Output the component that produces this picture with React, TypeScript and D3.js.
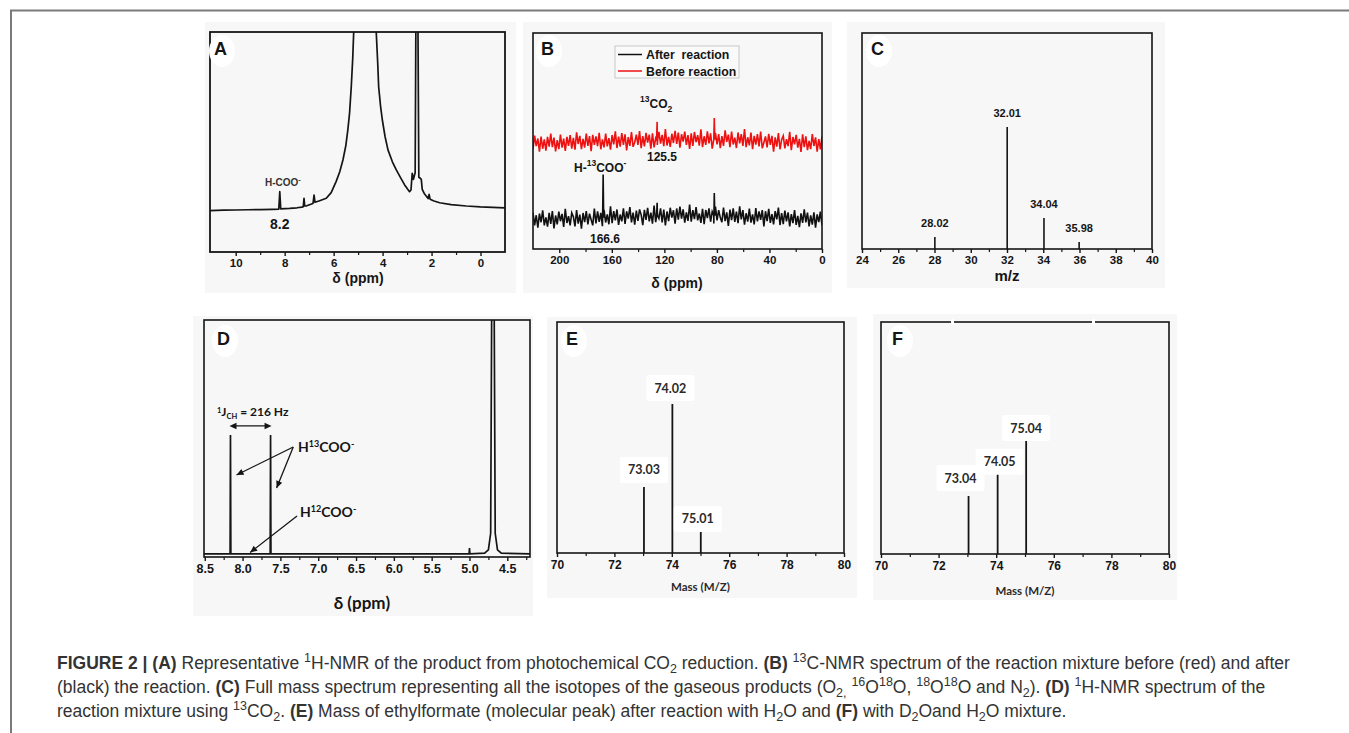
import { useEffect, useRef } from 'react'
import * as d3 from 'd3'

// ---- panel A: 1H-NMR trace, [ppm, intensity]
const A_TRACE: [number, number][] = [
  [11.1, 18.8], [10.5, 19.0], [10, 19.1], [9.5, 19.2], [9, 19.3], [8.5, 19.4], [8.24, 19.5],
  [8.2, 27.4], [8.16, 19.6], [7.8, 19.8], [7.5, 20.1], [7.3, 20.4], [7.24, 20.6], [7.21, 24.4],
  [7.18, 20.9], [7.1, 21.0], [6.9, 21.8], [6.84, 22.2], [6.8, 25.9], [6.76, 22.6], [6.6, 23.2],
  [6.3, 24.4], [6.1, 27.0], [5.9, 32], [5.75, 36.5], [5.62, 41.8], [5.5, 48.5], [5.42, 55.5],
  [5.35, 63], [5.28, 75], [5.22, 88], [5.18, 100], [5.1, 130], [4.95, 220], [4.72, 400],
  [4.5, 220], [4.35, 130], [4.26, 100], [4.2, 86], [4.16, 75], [4.08, 66], [4.01, 60],
  [3.9, 52.5], [3.78, 46.4], [3.6, 41], [3.44, 37.3], [3.25, 33.5], [3.1, 30.5], [2.98, 28.6],
  [2.9, 27.4], [2.84, 28.2], [2.79, 35.8], [2.74, 33], [2.67, 36], [2.62, 150], [2.58, 150],
  [2.52, 34], [2.46, 33.5], [2.42, 33], [2.38, 28.5], [2.3, 26.6], [2.14, 24.3], [2.1, 26.2],
  [2.06, 24.0], [1.9, 23.2], [1.67, 22.4], [1.2, 21.5], [0.58, 20.9], [0, 20.5], [-1, 20.1],
]

// ---- panel B: 13C-NMR, signed noise deviations along the trace (220 -> 0 ppm)
const B_NOISE = [
  3.2, -2.8, 1.9, -3.9, 2.6, -1.4, 4.1, -2.9, 0.8, -3.5, 2.9, -2.2, 3.7, -4.4, 1.6, -2.5, 3.4, -1.1,
  2.3, -3.8, 4.6, -2.0, 1.2, -3.1, 2.7, 0.9, -3.6, 3.9, -2.4, 1.8, -4.8, 2.5, -1.7, 3.3, -2.9, 2.1,
  -0.7, -3.4, 4.3, -2.6, 3.0, -1.9, 2.2, -4.0, 3.6, -2.3, 1.4, -3.2, 5.1, -2.7, 2.8, -1.5, 3.5, -3.7,
  1.1, -2.1, 3.9, -3.3, 2.4, -0.9, 4.4, -2.8, 1.7, -3.9, 2.6, -2.2, 3.1, 0.6, -4.2, 2.9, -1.8, 3.8,
  -2.5, 1.5, -3.6, 4.7, -2.9, 2.0, -1.3, 3.4, -3.1, 2.8, -4.5, 1.9, -2.6, 3.6, -1.0, 2.4, -3.8, 3.2,
  -2.0, 4.0, -1.6, 2.7, -3.4, 1.3, -2.7, 4.9, -3.0, 2.3, -1.8, 3.7, -2.4, 0.8, -3.5, 3.0, -4.1, 2.5,
  -1.2, 3.3, -2.9, 1.8, -3.7, 4.2, -2.2, 2.6, -0.9, -3.0, 3.8, -2.5, 1.6, -4.6, 2.9, -1.9, 3.5, -2.7,
  2.0, -3.3, 4.5, -1.5, 2.8, -3.9, 1.4, -2.4, 3.6, -2.8, 1.0, -3.6, 4.0, -2.1, 2.5, -1.4, 3.2, -4.3,
  2.7, -1.8, 3.9, -2.6, 1.5, -3.2, 2.9, -0.8, 4.6, -3.4, 2.1, -2.9, 3.4, -1.6, 2.6, -3.8, 1.9, -2.3,
  3.8, -3.0, 1.2, -4.0, 2.4, -2.0, 4.3, -1.7, 2.9, -3.5, 1.7, -2.6, 3.1, -3.9, 2.2, -1.3, 3.6, -2.8,
]
const B_BASE_PPM = [220, 180, 140, 100, 60, 20, 0]
const B_BASE_BLACK = [13.7, 14.2, 15.2, 15.7, 15.2, 14.2, 13.7]
const B_BASE_RED = [48.9, 49.5, 50.4, 50.8, 50.4, 49.5, 48.9]
const B_PEAKS_BLACK: [number, number][] = [[166.6, 20], [125.5, 6], [82, 10.5]]
const B_PEAKS_RED: [number, number][] = [[125.5, 8.3], [82, 10]]

// ---- panel C: gas mass spectrum
const C_MZ = [28.02, 32.01, 34.04, 35.98]
const C_INT = [5.6, 56.5, 14.4, 3.2]

// ---- panel D: 1H-NMR with 13CO2
const D_TRACE: [number, number][] = [
  [8.51, 1.3], [8.165, 1.3], [8.16, 51.5], [8.155, 1.3], [7.635, 1.3], [7.63, 51.5], [7.625, 1.3],
  [5.005, 1.3], [5.0, 3.8], [4.995, 1.3], [4.8, 1.6], [4.75, 3], [4.72, 10], [4.7, 150],
  [4.68, 150], [4.66, 10], [4.63, 3], [4.58, 1.6], [4.2, 1.3],
]

// ---- panels E, F: ethylformate molecular peak
const E_MZ = [73.03, 74.02, 75.01]
const E_INT = [28.6, 64.5, 9.1]
const F_MZ = [73.04, 74.05, 75.04]
const F_INT = [25, 35, 48.7]

const ARIAL = '"Liberation Sans", Arial, sans-serif'
const CALIBRI = 'Lato, "Open Sans", sans-serif'
const INK = '#151515'

type Sel = d3.Selection<SVGGElement, unknown, null, undefined>

function panelBg(g: Sel, x: number, y: number, w: number, h: number) {
  g.append('rect').attr('x', x).attr('y', y).attr('width', w).attr('height', h).attr('fill', '#f7f7f7')
}

function frame(g: Sel, x0: number, x1: number, y0: number, y1: number, sw = 1.6) {
  g.append('rect')
    .attr('x', x0).attr('y', y0).attr('width', x1 - x0).attr('height', y1 - y0)
    .attr('fill', 'none').attr('stroke', INK).attr('stroke-width', sw)
}

function xAxis(
  g: Sel, x: d3.ScaleLinear<number, number>, y: number,
  majors: number[], minors: number[], size: number, fmt: (d: number) => string,
) {
  const a = g.append('g').attr('transform', `translate(0,${y})`)
    .call(d3.axisBottom(x).tickValues(majors).tickSize(4).tickPadding(3).tickFormat((d) => fmt(+d)))
  a.select('.domain').remove()
  a.selectAll('line').attr('stroke', INK).attr('stroke-width', 1.4)
  a.selectAll('text').attr('font-family', ARIAL).attr('font-size', size).attr('font-weight', 700).attr('fill', INK)
  const m = g.append('g').attr('transform', `translate(0,${y})`)
    .call(d3.axisBottom(x).tickValues(minors).tickSize(3).tickFormat(() => ''))
  m.select('.domain').remove()
  m.selectAll('line').attr('stroke', INK).attr('stroke-width', 1.2)
}

function label(g: Sel, x: number, y: number, text: string, size: number, opts: any = {}) {
  return g.append('text')
    .attr('x', x).attr('y', y)
    .attr('text-anchor', opts.anchor || 'start')
    .attr('font-family', opts.font || ARIAL)
    .attr('font-size', size)
    .attr('font-weight', 700)
    .attr('fill', opts.fill || INK)
    .text(text)
}

function letter(g: Sel, x: number, y: number, t: string) {
  g.append('ellipse').attr('cx', x + 8).attr('cy', y - 4).attr('rx', 13).attr('ry', 16).attr('fill', '#fff')
  label(g, x, y, t, 18)
}

function clip(svg: any, id: string, x0: number, x1: number, y0: number, y1: number) {
  svg.append('defs').append('clipPath').attr('id', id)
    .append('rect').attr('x', x0).attr('y', y0).attr('width', x1 - x0).attr('height', y1 - y0)
  return `url(#${id})`
}

function arrowHead(g: Sel, x1: number, y1: number, x2: number, y2: number) {
  const ang = Math.atan2(y2 - y1, x2 - x1)
  const L = 7, W = 3.2
  const bx = x2 - L * Math.cos(ang), by = y2 - L * Math.sin(ang)
  const px = -Math.sin(ang) * W, py = Math.cos(ang) * W
  g.append('path')
    .attr('d', `M${x2},${y2}L${bx + px},${by + py}L${bx - px},${by - py}Z`)
    .attr('fill', INK)
}

function arrow(g: Sel, x1: number, y1: number, x2: number, y2: number) {
  g.append('line').attr('x1', x1).attr('y1', y1).attr('x2', x2).attr('y2', y2)
    .attr('stroke', INK).attr('stroke-width', 1.3)
  arrowHead(g, x1, y1, x2, y2)
}

function stickPanel(
  g: Sel, box: number[], mz: number[], inten: number[],
  labelDx: number[], labelDy: number[], titleY: number,
) {
  const [x0, x1, y0, y1] = box
  const x = d3.scaleLinear().domain([70, 80]).range([x0, x1])
  const y = d3.scaleLinear().domain([0, 100]).range([y1, y0])
  g.selectAll(null).data(mz).join('line')
    .attr('x1', (d) => x(d)).attr('x2', (d) => x(d))
    .attr('y1', y(0)).attr('y2', (_d, i) => y(inten[i]))
    .attr('stroke', INK).attr('stroke-width', 1.8)
  mz.forEach((d, i) => {
    const cx = x(d) + labelDx[i]
    const cy = y(inten[i]) - labelDy[i]
    g.append('rect').attr('x', cx - 24).attr('y', cy - 13).attr('width', 48).attr('height', 26)
      .attr('rx', 2).attr('fill', '#fff')
    label(g, cx, cy + 4.5, d.toFixed(2), 12.5, { anchor: 'middle', font: CALIBRI, fill: '#2a2a2a' })
  })
  frame(g, x0, x1, y0, y1, 1.6)
  xAxis(g, x, y1, [70, 72, 74, 76, 78, 80], [71, 73, 75, 77, 79], 12, (d) => `${d}`)
  label(g, (x0 + x1) / 2, titleY, 'Mass (M/Z)', 11.5, { anchor: 'middle', font: CALIBRI, fill: '#2a2a2a' })
}

function Figure() {
  const ref = useRef<SVGSVGElement>(null)

  useEffect(() => {
    if (!ref.current) return
    const svg = d3.select(ref.current)
    svg.selectAll('*').remove()
    const root = svg.append('g') as unknown as Sel

    // outer border of the figure block
    root.append('path').attr('d', 'M11,733V10.5H1349').attr('fill', 'none').attr('stroke', '#7a7a7a').attr('stroke-width', 2)

    // ---------------- A ----------------
    {
      const g = root.append('g') as unknown as Sel
      panelBg(g, 205, 22, 311, 271)
      const [x0, x1, y0, y1] = [210, 505, 32, 252]
      const x = d3.scaleLinear().domain([11.05, -1]).range([x0, x1])
      const y = d3.scaleLinear().domain([0, 100]).range([y1, y0])
      const line = d3.line<[number, number]>().x((d) => x(d[0])).y((d) => y(d[1]))
      g.append('path').attr('d', line(A_TRACE)).attr('fill', 'none').attr('stroke', INK)
        .attr('stroke-width', 1.7).attr('stroke-linejoin', 'round')
        .attr('clip-path', clip(svg, 'clipA', x0, x1, y0, y1))
      frame(g, x0, x1, y0, y1, 1.8)
      xAxis(g, x, y1, [10, 8, 6, 4, 2, 0], [9, 7, 5, 3, 1], 11.5, (d) => `${d}`)
      label(g, (x0 + x1) / 2 + 0.5, 283, 'δ (ppm)', 14, { anchor: 'middle' })
      const hc = label(g, 265, 186, 'H-COO', 10, { fill: '#333' })
      hc.append('tspan').attr('dy', -4).attr('font-size', 7.5).text('-')
      label(g, x(8.2), 229, '8.2', 14, { anchor: 'middle' })
      letter(g, 214, 55, 'A')
    }

    // ---------------- B ----------------
    {
      const g = root.append('g') as unknown as Sel
      panelBg(g, 523, 22, 309, 271)
      const [x0, x1, y0, y1] = [533, 822, 33, 249]
      const x = d3.scaleLinear().domain([220, 0]).range([x0, x1])
      const y = d3.scaleLinear().domain([0, 100]).range([y1, y0])
      const cp = clip(svg, 'clipB', x0, x1, y0, y1)
      const step = 220 / (B_NOISE.length - 1)
      const trace = (baseVals: number[], peaks: [number, number][], noise: number[]) => {
        const base = d3.scaleLinear().domain(B_BASE_PPM).range(baseVals)
        const pts: [number, number][] = noise.map((a, i) => {
          const ppm = 220 - i * step
          return [ppm, base(ppm) + a]
        })
        peaks.forEach(([p, h]) => {
          pts.push([p + 0.4, base(p)], [p, base(p) + h], [p - 0.4, base(p)])
        })
        pts.sort((a, b) => b[0] - a[0])
        return d3.line<[number, number]>().x((d) => x(d[0])).y((d) => y(d[1]))(pts)
      }
      g.append('path').attr('d', trace(B_BASE_RED, B_PEAKS_RED, B_NOISE.slice().reverse())).attr('fill', 'none')
        .attr('stroke', '#ee1111').attr('stroke-width', 1.6).attr('clip-path', cp)
      g.append('path').attr('d', trace(B_BASE_BLACK, B_PEAKS_BLACK, B_NOISE)).attr('fill', 'none')
        .attr('stroke', '#111').attr('stroke-width', 1.6).attr('clip-path', cp)
      frame(g, x0, x1, y0, y1, 1.6)
      xAxis(g, x, y1, [200, 160, 120, 80, 40, 0], [180, 140, 100, 60, 20], 11.5, (d) => `${d}`)
      label(g, 677, 288, 'δ (ppm)', 14, { anchor: 'middle' })
      // legend
      g.append('rect').attr('x', 615).attr('y', 46).attr('width', 124).attr('height', 32)
        .attr('fill', '#fafafa').attr('stroke', '#bbb').attr('stroke-width', 0.8)
      g.append('line').attr('x1', 618).attr('x2', 642).attr('y1', 54.5).attr('y2', 54.5).attr('stroke', '#111').attr('stroke-width', 1.5)
      g.append('line').attr('x1', 618).attr('x2', 642).attr('y1', 71).attr('y2', 71).attr('stroke', '#ee1111').attr('stroke-width', 1.5)
      label(g, 646, 59, 'After  reaction', 12.3).attr('xml:space', 'preserve')
      label(g, 646, 75.5, 'Before reaction', 12.3)
      const co2 = g.append('text').attr('x', 640).attr('y', 108).attr('font-family', ARIAL)
        .attr('font-weight', 700).attr('font-size', 12).attr('fill', INK)
      co2.append('tspan').attr('font-size', 8.5).attr('dy', -6).text('13')
      co2.append('tspan').attr('dy', 6).text('CO')
      co2.append('tspan').attr('font-size', 8.5).attr('dy', 4).text('2')
      label(g, 662, 161, '125.5', 12, { anchor: 'middle' })
      const hf = g.append('text').attr('x', 574).attr('y', 172).attr('font-family', ARIAL)
        .attr('font-weight', 700).attr('font-size', 12).attr('fill', INK)
      hf.append('tspan').text('H-')
      hf.append('tspan').attr('font-size', 8.5).attr('dy', -6).text('13')
      hf.append('tspan').attr('dy', 6).text('COO')
      hf.append('tspan').attr('font-size', 8.5).attr('dy', -6).text('-')
      label(g, 605, 243, '166.6', 12, { anchor: 'middle' })
      letter(g, 541, 55, 'B')
    }

    // ---------------- C ----------------
    {
      const g = root.append('g') as unknown as Sel
      panelBg(g, 847, 22, 318, 266)
      const [x0, x1, y0, y1] = [862, 1152, 33, 249]
      const x = d3.scaleLinear().domain([24, 40]).range([x0, x1])
      const y = d3.scaleLinear().domain([0, 100]).range([y1, y0])
      g.selectAll(null).data(C_MZ).join('line')
        .attr('x1', (d) => x(d)).attr('x2', (d) => x(d))
        .attr('y1', y(0)).attr('y2', (_d, i) => y(C_INT[i]))
        .attr('stroke', INK).attr('stroke-width', 1.6)
      C_MZ.forEach((d, i) => label(g, x(d), y(C_INT[i]) - 10, d.toFixed(2), 11, { anchor: 'middle' }))
      frame(g, x0, x1, y0, y1, 1.6)
      xAxis(g, x, y1, d3.range(24, 41, 2), d3.range(25, 40, 2), 11.5, (d) => `${d}`)
      label(g, 1007, 281, 'm/z', 15, { anchor: 'middle' })
      letter(g, 871, 55, 'C')
    }

    // ---------------- D ----------------
    {
      const g = root.append('g') as unknown as Sel
      panelBg(g, 193, 316, 340, 300)
      const [x0, x1, y0, y1] = [204, 530, 320, 557]
      const x = d3.scaleLinear().domain([8.51, 4.2]).range([x0, x1])
      const y = d3.scaleLinear().domain([0, 100]).range([y1, y0])
      const line = d3.line<[number, number]>().x((d) => x(d[0])).y((d) => y(d[1]))
      g.append('path').attr('d', line(D_TRACE)).attr('fill', 'none').attr('stroke', INK)
        .attr('stroke-width', 1.7).attr('clip-path', clip(svg, 'clipD', x0, x1, y0, y1))
      frame(g, x0, x1, y0, y1, 1.6)
      xAxis(g, x, y1, d3.range(8.5, 4.4, -0.5), d3.range(8.25, 4.2, -0.5), 12.5, (d) => d.toFixed(1))
      label(g, 362, 609, 'δ (ppm)', 17, { anchor: 'middle', font: CALIBRI })
      // coupling annotation
      const jt = g.append('text').attr('x', 217).attr('y', 416).attr('font-family', CALIBRI)
        .attr('font-weight', 700).attr('font-size', 12).attr('fill', INK)
      jt.append('tspan').attr('font-size', 7.5).attr('dy', -3).text('1')
      jt.append('tspan').attr('dy', 3).text('J')
      jt.append('tspan').attr('font-size', 7.5).attr('dy', 3).text('CH')
      jt.append('tspan').attr('dy', -3).text(' = 216 Hz')
      const ya = y(55.3)
      g.append('line').attr('x1', x(8.16) + 2).attr('x2', x(7.63) - 2).attr('y1', ya).attr('y2', ya)
        .attr('stroke', INK).attr('stroke-width', 1.3)
      arrowHead(g, x(7.9), ya, x(8.16) - 1, ya)
      arrowHead(g, x(7.9), ya, x(7.63) + 1, ya)
      const h13 = g.append('text').attr('x', 298).attr('y', 452).attr('font-family', CALIBRI)
        .attr('font-weight', 700).attr('font-size', 14).attr('fill', INK)
      h13.append('tspan').text('H')
      h13.append('tspan').attr('font-size', 9).attr('dy', -5).text('13')
      h13.append('tspan').attr('dy', 5).text('COO')
      h13.append('tspan').attr('font-size', 9).attr('dy', -5).text('-')
      const h12 = g.append('text').attr('x', 300).attr('y', 517).attr('font-family', CALIBRI)
        .attr('font-weight', 700).attr('font-size', 14).attr('fill', INK)
      h12.append('tspan').text('H')
      h12.append('tspan').attr('font-size', 9).attr('dy', -5).text('12')
      h12.append('tspan').attr('dy', 5).text('COO')
      h12.append('tspan').attr('font-size', 9).attr('dy', -5).text('-')
      arrow(g, x(7.33), y(46.4), x(8.08), y(34.6))
      arrow(g, x(7.33), y(46.4), x(7.55), y(29.1))
      arrow(g, x(7.28), y(17.3), x(7.9), y(1.9))
      letter(g, 217, 345, 'D')
    }

    // ---------------- E ----------------
    {
      const g = root.append('g') as unknown as Sel
      panelBg(g, 547, 317, 310, 281)
      stickPanel(g, [557, 844, 322, 553], E_MZ, E_INT, [0, -2, -3], [17, 16, 13], 591)
      letter(g, 566, 345, 'E')
    }

    // ---------------- F ----------------
    {
      const g = root.append('g') as unknown as Sel
      panelBg(g, 873, 314, 304, 286)
      stickPanel(g, [881, 1169, 322, 554], F_MZ, F_INT, [-8, 2, 0], [18, 11, 13], 595)
      g.append('rect').attr('x', 951).attr('y', 319).attr('width', 3).attr('height', 6).attr('fill', '#fff')
      g.append('rect').attr('x', 1092).attr('y', 319).attr('width', 3).attr('height', 6).attr('fill', '#fff')
      letter(g, 892, 345, 'F')
    }
  }, [])

  return <svg ref={ref} width={1349} height={733} style={{ position: 'absolute', left: 0, top: 0 }} />
}

type Seg = [string, string]
const CAPTION: Seg[][] = [
  [['b', 'FIGURE 2 | (A)'], ['n', ' Representative '], ['sup', '1'], ['n', 'H-NMR of the product from photochemical CO'], ['sub', '2'], ['n', ' reduction. '], ['b', '(B)'], ['n', ' '], ['sup', '13'], ['n', 'C-NMR spectrum of the reaction mixture before (red) and after']],
  [['n', '(black) the reaction. '], ['b', '(C)'], ['n', ' Full mass spectrum representing all the isotopes of the gaseous products (O'], ['sub', '2,'], ['n', ' '], ['sup', '16'], ['n', 'O'], ['sup', '18'], ['n', 'O, '], ['sup', '18'], ['n', 'O'], ['sup', '18'], ['n', 'O and N'], ['sub', '2'], ['n', '). '], ['b', '(D)'], ['n', ' '], ['sup', '1'], ['n', 'H-NMR spectrum of the']],
  [['n', 'reaction mixture using '], ['sup', '13'], ['n', 'CO'], ['sub', '2'], ['n', '. '], ['b', '(E)'], ['n', ' Mass of ethylformate (molecular peak) after reaction with H'], ['sub', '2'], ['n', 'O and '], ['b', '(F)'], ['n', ' with D'], ['sub', '2'], ['n', 'Oand H'], ['sub', '2'], ['n', 'O mixture.']],
]

function Caption() {
  return (
    <svg width={1349} height={733} style={{ position: 'absolute', left: 0, top: 0, pointerEvents: 'none' }}>
      {CAPTION.map((segs, li) => {
        let off = 0
        return (
          <text key={li} x={57} y={669 + li * 24} fontFamily={ARIAL} fontSize={17.5} fill="#333" xmlSpace="preserve">
            {segs.map(([k, t], i) => {
              const target = k === 'sup' ? -7 : k === 'sub' ? 4 : 0
              const dy = target - off
              off = target
              return (
                <tspan key={i} dy={dy} fontWeight={k === 'b' ? 700 : 400} fontSize={k === 'sup' || k === 'sub' ? 12.5 : 17.5}>
                  {t}
                </tspan>
              )
            })}
          </text>
        )
      })}
    </svg>
  )
}

export default function App() {
  return (
    <div style={{ position: 'absolute', left: 0, top: 0, width: 1349, height: 733, background: '#fff' }}>
      <Figure />
      <Caption />
    </div>
  )
}
